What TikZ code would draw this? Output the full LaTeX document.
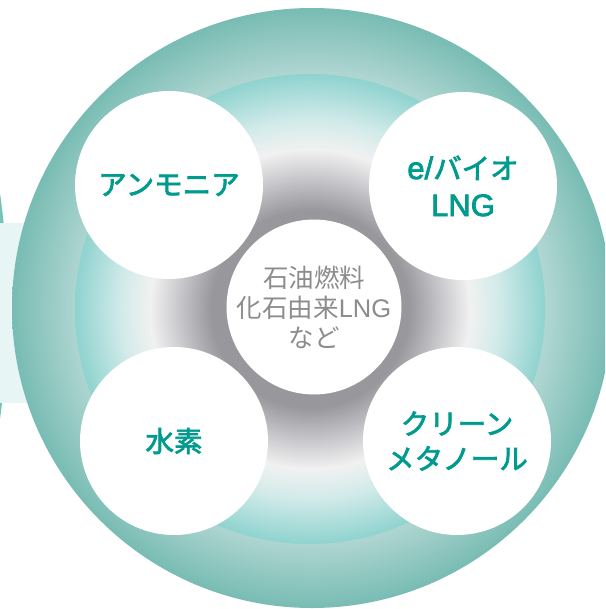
\documentclass[tikz,border=0pt]{standalone}
\usepackage{fontspec}
\newfontfamily\jpfont{Noto Sans CJK JP}
\newfontfamily\jpmedium[FakeBold=2.5]{Noto Sans CJK JP}
\newfontfamily\latfont{Liberation Sans}
\newfontfamily\latmedium[FakeBold=2.5]{Liberation Sans}
\definecolor{fueltext}{HTML}{009B8E}
\definecolor{fossiltext}{HTML}{8C8C8C}
\definecolor{ringdark}{HTML}{78BCB3}
\definecolor{ringlight}{HTML}{B0D6D2}
\definecolor{coredark}{HTML}{98979C}
\definecolor{coremid}{HTML}{C5C4C8}
\definecolor{corewhite}{HTML}{F1F1F1}
\definecolor{corepale}{HTML}{D3EBEA}
\definecolor{coreteal}{HTML}{8FD3CF}
\definecolor{sideteal}{HTML}{74C5B9}
\definecolor{sidepale}{HTML}{E7F5F5}
% 25bp is the rim of the shaded circle
\pgfdeclareradialshading{outerring}{\pgfpoint{0bp}{0bp}}{color(0bp)=(ringlight); color(19.5bp)=(ringlight); color(25bp)=(ringdark); color(50bp)=(ringdark)}
\pgfdeclareradialshading{innercore}{\pgfpoint{0bp}{0bp}}{color(0bp)=(coredark); color(10.5bp)=(coredark); color(13.75bp)=(coremid); color(17bp)=(corewhite); color(20bp)=(corepale); color(25bp)=(coreteal); color(50bp)=(coreteal)}
\newcommand\latin[1]{{\latmedium\fontsize{31}{37}\selectfont #1}}
\begin{document}
\begin{tikzpicture}[x=1pt,y=-1pt,
    fuel/.style={circle,fill=white,minimum size=188pt,inner sep=0pt,align=center,
      text=fueltext,font=\jpmedium\fontsize{28.5}{37}\selectfont},
    fossil/.style={circle,fill=white,minimum size=174pt,inner sep=0pt,align=center,
      text=fossiltext,font=\jpfont\fontsize{25.5}{30}\selectfont}]
    \useasboundingbox (0,0) rectangle (605,609);
    \clip (0,0) rectangle (605,609);

    % neighbour on the left
    \fill[sideteal] (-780,306) circle (788);
    \fill[sidepale] (0,223) rectangle (40,403);

    % rings
    \shade[shading=outerring] (312,308) circle (300);
    \shade[shading=innercore] (310,309) circle (235);

    \node[fossil] (fossil) at (314,307) {石油燃料\\化石由来{\latfont LNG}\\など};
    \node[fuel] (ammonia) at (169,185) {アンモニア};
    \node[fuel] (biolng) at (463,186) {\latin{e/}バイオ\\\latin{LNG}};
    \node[fuel] (hydrogen) at (174,441) {水素};
    \node[fuel,font=\jpmedium\fontsize{28.5}{35}\selectfont] (methanol) at (457,441) {クリーン\\メタノール};
\end{tikzpicture}
\end{document}
